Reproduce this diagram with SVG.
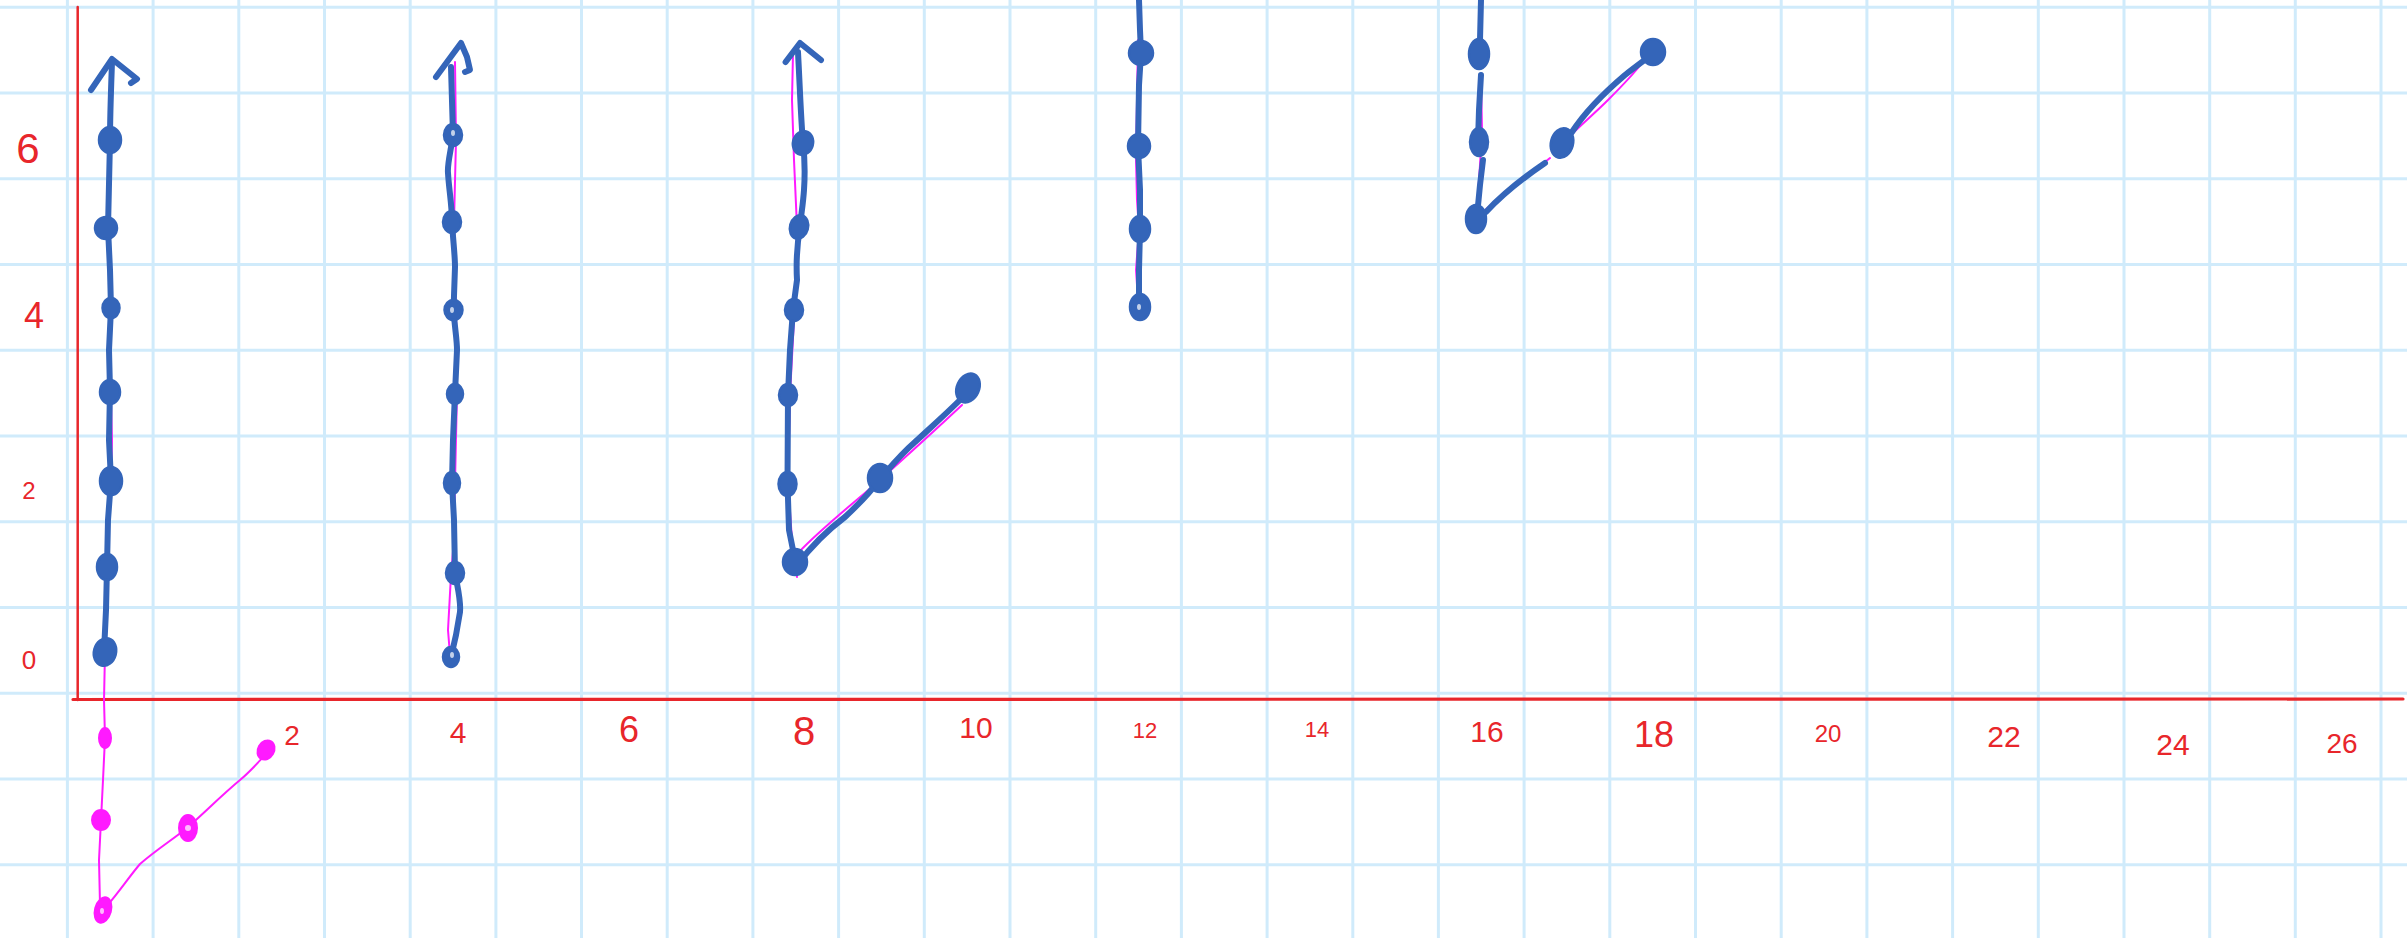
<svg xmlns="http://www.w3.org/2000/svg" width="2407" height="938" viewBox="0 0 2407 938">
<style>
.grid line{stroke:#d0ebfb;stroke-width:3}
.axis{stroke:#e8262b;fill:none;stroke-linecap:round}
.lbl{fill:#e8262b;font-family:"Liberation Sans",Arial,sans-serif;text-anchor:middle}
.blue{stroke:#3465b9;stroke-width:6;fill:none;stroke-linecap:round;stroke-linejoin:round}
.bdot{fill:#3465b9;stroke:#3465b9;stroke-width:2.5}
.pink{stroke:#ff1aff;stroke-width:2;fill:none;stroke-linecap:round;stroke-linejoin:round}
.pdot{fill:#ff1aff;stroke:#ff1aff;stroke-width:2}
.hl{fill:#ffffff;opacity:0.7}
</style>
<rect width="2407" height="938" fill="#ffffff"/>
<g id="grid" class="grid">
<line x1="67.4" y1="0" x2="67.4" y2="938"/>
<line x1="153.1" y1="0" x2="153.1" y2="938"/>
<line x1="238.8" y1="0" x2="238.8" y2="938"/>
<line x1="324.5" y1="0" x2="324.5" y2="938"/>
<line x1="410.2" y1="0" x2="410.2" y2="938"/>
<line x1="495.9" y1="0" x2="495.9" y2="938"/>
<line x1="581.5" y1="0" x2="581.5" y2="938"/>
<line x1="667.2" y1="0" x2="667.2" y2="938"/>
<line x1="752.9" y1="0" x2="752.9" y2="938"/>
<line x1="838.6" y1="0" x2="838.6" y2="938"/>
<line x1="924.3" y1="0" x2="924.3" y2="938"/>
<line x1="1010.0" y1="0" x2="1010.0" y2="938"/>
<line x1="1095.7" y1="0" x2="1095.7" y2="938"/>
<line x1="1181.4" y1="0" x2="1181.4" y2="938"/>
<line x1="1267.1" y1="0" x2="1267.1" y2="938"/>
<line x1="1352.8" y1="0" x2="1352.8" y2="938"/>
<line x1="1438.4" y1="0" x2="1438.4" y2="938"/>
<line x1="1524.1" y1="0" x2="1524.1" y2="938"/>
<line x1="1609.8" y1="0" x2="1609.8" y2="938"/>
<line x1="1695.5" y1="0" x2="1695.5" y2="938"/>
<line x1="1781.2" y1="0" x2="1781.2" y2="938"/>
<line x1="1866.9" y1="0" x2="1866.9" y2="938"/>
<line x1="1952.6" y1="0" x2="1952.6" y2="938"/>
<line x1="2038.3" y1="0" x2="2038.3" y2="938"/>
<line x1="2124.0" y1="0" x2="2124.0" y2="938"/>
<line x1="2209.7" y1="0" x2="2209.7" y2="938"/>
<line x1="2295.3" y1="0" x2="2295.3" y2="938"/>
<line x1="2381.0" y1="0" x2="2381.0" y2="938"/>
<line x1="0" y1="7.3" x2="2407" y2="7.3"/>
<line x1="0" y1="93.1" x2="2407" y2="93.1"/>
<line x1="0" y1="178.8" x2="2407" y2="178.8"/>
<line x1="0" y1="264.6" x2="2407" y2="264.6"/>
<line x1="0" y1="350.3" x2="2407" y2="350.3"/>
<line x1="0" y1="436.1" x2="2407" y2="436.1"/>
<line x1="0" y1="521.8" x2="2407" y2="521.8"/>
<line x1="0" y1="607.6" x2="2407" y2="607.6"/>
<line x1="0" y1="693.3" x2="2407" y2="693.3"/>
<line x1="0" y1="779.1" x2="2407" y2="779.1"/>
<line x1="0" y1="864.8" x2="2407" y2="864.8"/>
</g>
<g id="axes">
<path class="axis" stroke-width="2.5" d="M77.7,7 L77.7,700"/>
<path class="axis" stroke-width="3.2" d="M73,699.5 L2403,699"/>
</g>
<g id="y-labels">
<text class="lbl" x="28" y="163" font-size="42">6</text>
<text class="lbl" x="34" y="328" font-size="36">4</text>
<text class="lbl" x="29" y="499" font-size="24">2</text>
<text class="lbl" x="29" y="669" font-size="26">0</text>
</g>
<g id="x-labels">
<text class="lbl" x="292" y="745" font-size="28">2</text>
<text class="lbl" x="458" y="743" font-size="30">4</text>
<text class="lbl" x="629" y="742" font-size="36">6</text>
<text class="lbl" x="804" y="745" font-size="40">8</text>
<text class="lbl" x="976" y="738" font-size="30">10</text>
<text class="lbl" x="1145" y="738" font-size="22">12</text>
<text class="lbl" x="1317" y="737" font-size="22">14</text>
<text class="lbl" x="1487" y="742" font-size="30">16</text>
<text class="lbl" x="1654" y="747" font-size="36">18</text>
<text class="lbl" x="1828" y="742" font-size="24">20</text>
<text class="lbl" x="2004" y="747" font-size="30">22</text>
<text class="lbl" x="2173" y="755" font-size="30">24</text>
<text class="lbl" x="2342" y="753" font-size="28">26</text>
</g>
<g id="connectors">
<path class="pink" d="M111,403 L112,440 L111,480 L109,520 L108,567 L106,610 L105,652 L104,700 L105,738 L103,780 L101,820 L99,860 L100,905"/>
<path class="pink" d="M103,910 C115,898 128,878 140,864 C156,850 172,840 187,828 C205,812 222,795 240,780 C252,770 260,760 268,752"/>
<path class="pink" d="M455,62 L456,140 L454,222 L456,310 L457,393 L455,483 L454,540 L451,575 L448,630 L450,655"/>
<path class="pink" d="M793,53 L792,100 L794,160 L797,227 L795,300 L790,395 L788,483 L792,540 L795,560 L797,577"/>
<path class="pink" d="M799,552 C820,530 845,510 872,487 C900,462 930,435 962,405"/>
<path class="pink" d="M1138,40 L1137,100 L1136,160 L1137,200 L1139,230 L1136,270 L1138,300"/>
<path class="pink" d="M1481,80 L1482,130 L1480,165 L1477,210 L1481,214 C1500,196 1525,178 1550,158"/>
<path class="pink" d="M1570,136 C1582,124 1596,112 1608,100 C1620,88 1632,76 1642,63"/>
<path class="blue" d="M112,62 C111,90 110,115 110,140 L108,228 L110,270 L111,308 L109,350 L110,390 L109,440 L111,480 L108,520 L107,567 L106,610 L104,652"/>
<path class="blue" d="M91,90 L112,59 L137,79 L131,83"/>
<path class="blue" stroke-width="5" d="M451,67 L453,135 C451,150 447,165 448,173 C449,190 452,205 452,222 C453,240 455,255 455,267 L453.5,310 C455,330 457,340 457,350 L455,393 L453,440 L452,483 L454,520 L455,573 C458,590 461,600 460,612 L456,635 L451,657"/>
<path class="blue" stroke-width="5" d="M436,77 L461,43 L467,57 L470,70 L465,72"/>
<path class="blue" d="M798,52 C800,90 801,120 803,143 C805,160 805,175 804,190 C803,205 801,215 800,227 C797,245 796,262 797,280 L793,310 L790,350 L788,395 L787.5,483 L789,530 L795,560"/>
<path class="blue" stroke-width="5" d="M785.6,62 L800,43 L821,60"/>
<path class="blue" d="M797,565 C810,548 825,532 845,517 C860,503 870,493 879,480 C888,470 900,455 915,442 C930,428 945,415 962,398"/>
<path class="blue" d="M1139,0 L1140,30 L1141,53 L1139,85 L1138,147 L1140,190 L1140,230 L1139,270 L1139,307"/>
<path class="blue" d="M1481,0 L1480,40 L1479,53"/>
<path class="blue" d="M1481,75 L1479,110 L1478,142"/>
<path class="blue" d="M1483,160 L1480,185 L1477,216"/>
<path class="blue" d="M1486,212 C1500,197 1520,180 1545,163"/>
<path class="blue" d="M1572,132 C1585,112 1605,92 1625,75 C1635,67 1642,62 1650,56"/>
</g>
<g id="points-x0">
<ellipse class="bdot" cx="110" cy="140" rx="11" ry="13"/>
<ellipse class="bdot" cx="106" cy="228" rx="11" ry="11"/>
<ellipse class="bdot" cx="111" cy="308" rx="8.5" ry="10"/>
<ellipse class="bdot" cx="110" cy="392" rx="10" ry="12"/>
<ellipse class="bdot" cx="111" cy="481" rx="11" ry="14"/>
<ellipse class="bdot" cx="107" cy="567" rx="10" ry="13"/>
<ellipse class="bdot" cx="105" cy="652" rx="11" ry="14" transform="rotate(15 105 652)"/>
</g>
<g id="points-x0-pink">
<ellipse class="pdot" cx="105" cy="738" rx="6" ry="10"/>
<ellipse class="pdot" cx="101" cy="820" rx="9" ry="10"/>
<ellipse class="pdot" cx="103" cy="910" rx="8" ry="13" transform="rotate(15 103 910)"/>
<ellipse class="pdot" cx="188" cy="828" rx="9" ry="13"/>
<ellipse class="pdot" cx="266" cy="750" rx="8" ry="10" transform="rotate(30 266 750)"/>
<ellipse class="hl" cx="102" cy="911" rx="2" ry="3"/>
<ellipse class="hl" cx="188" cy="828" rx="3" ry="3"/>
</g>
<g id="points-x4">
<ellipse class="bdot" cx="453" cy="135" rx="9" ry="11"/>
<ellipse class="bdot" cx="452" cy="222" rx="9" ry="11"/>
<ellipse class="bdot" cx="453.5" cy="310" rx="9" ry="10"/>
<ellipse class="bdot" cx="455" cy="394" rx="8" ry="10"/>
<ellipse class="bdot" cx="452" cy="483" rx="8" ry="11"/>
<ellipse class="bdot" cx="455" cy="573" rx="9" ry="11"/>
<ellipse class="bdot" cx="451" cy="657" rx="8" ry="10"/>
<ellipse class="hl" cx="453" cy="133" rx="2" ry="3"/>
<ellipse class="hl" cx="452" cy="310" rx="2" ry="3"/>
<ellipse class="hl" cx="452" cy="655" rx="2" ry="3"/>
</g>
<g id="points-x8">
<ellipse class="bdot" cx="803" cy="143" rx="10" ry="12" transform="rotate(15 803 143)"/>
<ellipse class="bdot" cx="799" cy="227" rx="9" ry="12" transform="rotate(15 799 227)"/>
<ellipse class="bdot" cx="794" cy="310" rx="9" ry="11"/>
<ellipse class="bdot" cx="788" cy="395" rx="9" ry="11"/>
<ellipse class="bdot" cx="787.5" cy="484" rx="9" ry="12"/>
<ellipse class="bdot" cx="795" cy="562" rx="12" ry="13"/>
<ellipse class="bdot" cx="880" cy="478" rx="12" ry="14"/>
<ellipse class="bdot" cx="968" cy="388" rx="11" ry="15" transform="rotate(25 968 388)"/>
</g>
<g id="points-x12">
<ellipse class="bdot" cx="1141" cy="53" rx="12" ry="12"/>
<ellipse class="bdot" cx="1139" cy="146" rx="11" ry="12"/>
<ellipse class="bdot" cx="1140" cy="229" rx="10" ry="13"/>
<ellipse class="bdot" cx="1140" cy="307" rx="10" ry="13"/>
<ellipse class="hl" cx="1139" cy="307" rx="2" ry="3"/>
</g>
<g id="points-x16">
<ellipse class="bdot" cx="1479" cy="54" rx="10" ry="15"/>
<ellipse class="bdot" cx="1479" cy="142" rx="9" ry="14"/>
<ellipse class="bdot" cx="1476" cy="219" rx="10" ry="14"/>
<ellipse class="bdot" cx="1562" cy="143" rx="11" ry="15" transform="rotate(15 1562 143)"/>
<ellipse class="bdot" cx="1653" cy="52" rx="12" ry="13"/>
</g>
</svg>
